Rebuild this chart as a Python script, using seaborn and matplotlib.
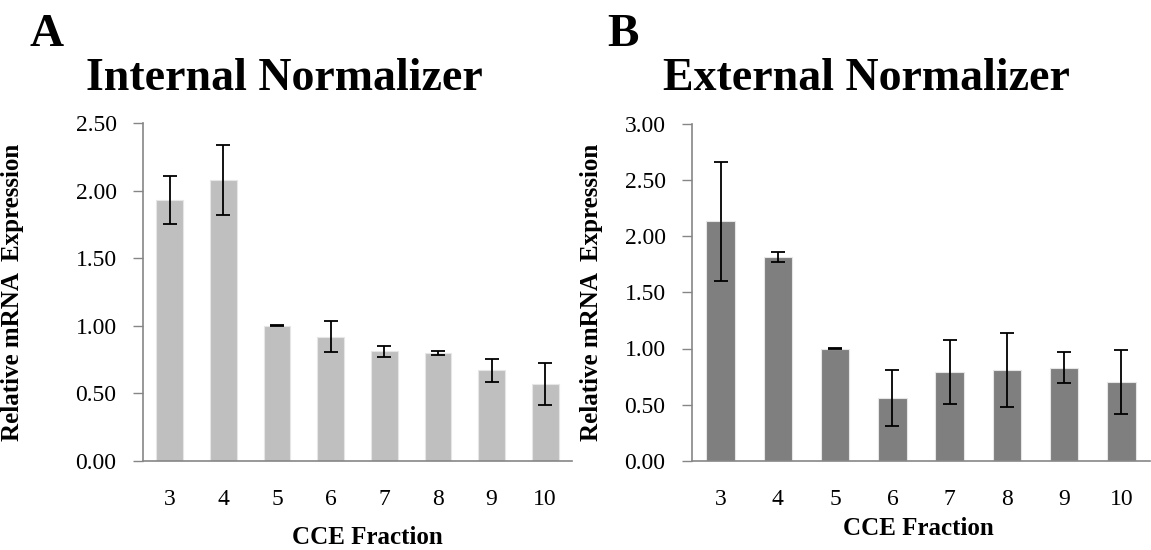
import numpy as np
import pandas as pd
import matplotlib
matplotlib.use("Agg")
import matplotlib.pyplot as plt
import seaborn as sns

# ---- data ----
fractions = ["3", "4", "5", "6", "7", "8", "9", "10"]

internal_mean = [1.93, 2.08, 1.00, 0.92, 0.81, 0.80, 0.67, 0.57]
internal_err = [0.18, 0.26, 0.005, 0.115, 0.04, 0.015, 0.085, 0.155]

external_mean = [2.13, 1.81, 1.00, 0.56, 0.795, 0.81, 0.83, 0.70]
external_err = [0.53, 0.045, 0.003, 0.245, 0.285, 0.33, 0.14, 0.285]

sns.set_style("white")
plt.rcParams["font.family"] = ["Liberation Serif", "DejaVu Serif"]
plt.rcParams["text.color"] = "black"
plt.rcParams["axes.labelcolor"] = "black"

axis_grey = "#868686"

fig = plt.figure(figsize=(11.51, 5.5), dpi=100)
ax_a = fig.add_axes([143 / 1151, 1 - 461 / 550, 429 / 1151, 338 / 550])
ax_b = fig.add_axes([692 / 1151, 1 - 461 / 550, 458 / 1151, 337.5 / 550])


def draw_panel(ax, means, errs, color, ymax, title_x, title, letter, letter_x):
    df = pd.DataFrame({"Fraction": fractions, "Value": means})
    sns.barplot(data=df, x="Fraction", y="Value", color=color, width=0.5,
                edgecolor="#e6e6e6", linewidth=0.8, saturation=1, ax=ax)
    ax.errorbar(np.arange(len(means)), means, yerr=errs, fmt="none",
                ecolor="black", elinewidth=1.3, capsize=4.7, capthick=1.3)

    ax.set_xlim(-0.5, len(fractions) - 0.5)
    ax.set_ylim(0, ymax)
    yt = np.arange(0, ymax + 0.01, 0.5)
    ax.set_yticks(yt)
    ax.set_yticklabels([f"{v:.2f}" for v in yt], fontsize=17)

    # Excel-style: ticks between categories, labels at the centers
    ax.set_xticks(np.arange(-0.5, len(fractions), 1.0))
    ax.set_xticklabels([])
    ax.set_xticks(np.arange(len(fractions)), minor=True)
    ax.set_xticklabels(fractions, minor=True, fontsize=17)
    ax.tick_params(axis="x", which="major", length=8, color=axis_grey, width=1)
    ax.tick_params(axis="x", which="minor", length=0, pad=20, labelcolor="black")
    ax.tick_params(axis="y", length=7, color=axis_grey, width=1, pad=12,
                   left=True, labelcolor="black")

    for s in ["top", "right"]:
        ax.spines[s].set_visible(False)
    for s in ["left", "bottom"]:
        ax.spines[s].set_color(axis_grey)
        ax.spines[s].set_linewidth(1.2)

    ax.set_xlabel("CCE Fraction", fontsize=18, fontweight="bold")
    ax.set_ylabel("Relative mRNA  Expression", fontsize=18, fontweight="bold")

    fig.text(title_x / 1151, 1 - 90 / 550, title, fontsize=33,
             fontweight="bold", ha="center", va="baseline")
    fig.text(letter_x / 1151, 1 - 46 / 550, letter, fontsize=34,
             fontweight="bold", ha="left", va="baseline")


draw_panel(ax_a, internal_mean, internal_err, "#bfbfbf", 2.5, 284,
           "Internal Normalizer", "A", 30)
draw_panel(ax_b, external_mean, external_err, "#7f7f7f", 3.0, 866,
           "External Normalizer", "B", 607)

ax_a.xaxis.set_label_coords((367 - 143) / 429, (461 - 526) / 338)
ax_a.yaxis.set_label_coords((24 - 143) / 429, 0.5)
ax_b.xaxis.set_label_coords((918 - 692) / 458, (461 - 517) / 337.5)
ax_b.yaxis.set_label_coords((603 - 692) / 458, 0.5)

fig.savefig("out.png", dpi=100)
